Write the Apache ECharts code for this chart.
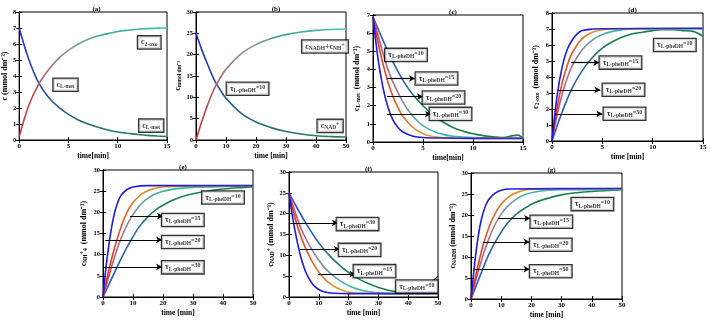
<!DOCTYPE html>
<html>
<head>
<meta charset="utf-8">
<script src="https://cdn.jsdelivr.net/npm/echarts@6/dist/echarts.min.js"></script>
<style>
  html, body { margin: 0; padding: 0; background: #fff; }
  #chart { width: 710px; height: 320px; }
</style>
</head>
<body>
<div id="chart"></div>
<script>
  // ---- data: [time (min), concentration (mmol dm-3)] ----
  // (a)
  const aLmet = [[0,7],[1,5.0],[2,3.55],[3,2.65],[4,2.05],[5,1.6],[6,1.25],[7,1.0],[8,0.8],[9,0.63],[10,0.5],[11,0.42],[12,0.35],[13,0.29],[14,0.25],[15,0.22]];
  const a2oxo = [[0,0.2],[1,2.2],[2,3.5],[3,4.4],[4,5.1],[5,5.6],[6,6.0],[7,6.3],[8,6.5],[9,6.65],[10,6.78],[11,6.86],[12,6.92],[13,6.96],[14,6.99],[15,7.0]];
  // (b)
  const bNAD = [[0,25],[2,21],[4,17.5],[6,14.2],[8,11.8],[10,9.8],[15,6.3],[20,4.2],[25,2.9],[30,2.0],[35,1.4],[40,1.0],[45,0.8],[50,0.7]];
  const bNADH = [[0,0],[2,4.5],[4,8.5],[6,11.9],[8,14.5],[10,16.6],[15,20.2],[20,22.4],[25,23.8],[30,24.7],[35,25.3],[40,25.7],[45,25.9],[50,26.0]];
  // (c) c L-met for tau = 30, 20, 15, 10
  const cT30 = [[0,6.9],[0.5,4.6],[1,3.0],[1.5,1.9],[2,1.2],[2.5,0.8],[3,0.55],[4,0.32],[5,0.25],[7,0.22],[10,0.2],[15,0.2]];
  const cT20 = [[0,6.9],[0.5,5.5],[1,4.3],[1.5,3.3],[2,2.5],[2.5,1.9],[3,1.4],[4,0.8],[5,0.45],[6,0.3],[7,0.25],[10,0.2],[15,0.2]];
  const cT15 = [[0,6.9],[0.5,5.9],[1,4.9],[1.5,4.0],[2,3.3],[3,2.2],[4,1.4],[5,0.9],[6,0.6],[7,0.42],[8,0.32],[10,0.25],[15,0.2]];
  const cT10 = [[0,6.9],[1,5.6],[2,4.4],[3,3.4],[4,2.6],[5,2.0],[6,1.5],[7,1.1],[8,0.8],[9,0.6],[10,0.45],[11,0.35],[12,0.28],[13,0.25],[14,0.35],[14.5,0.38],[15,0.2]];
  // (d) c 2-oxo
  const dT30 = [[0,0],[0.5,2.8],[1,4.6],[1.5,5.7],[2,6.3],[2.5,6.7],[3,6.9],[4,7.0],[5,7.02],[15,7.05]];
  const dT20 = [[0,0],[0.5,2.0],[1,3.6],[1.5,4.7],[2,5.5],[3,6.4],[4,6.8],[5,6.95],[6,7.0],[15,7.05]];
  const dT15 = [[0,0],[0.5,1.6],[1,2.9],[1.5,3.9],[2,4.7],[3,5.7],[4,6.3],[5,6.65],[6,6.85],[7,6.95],[8,7.0],[15,7.0]];
  const dT10 = [[0,0],[1,1.8],[2,3.3],[3,4.4],[4,5.2],[5,5.8],[6,6.2],[7,6.5],[8,6.7],[9,6.8],[10,6.9],[11,6.95],[12,6.95],[13,6.9],[14,6.85],[15,6.55]];
  // (e) c NH4+
  const eT30 = [[0,0],[1,7],[2,12.5],[3,17],[4,20.3],[5,22.5],[6,24],[8,25.4],[10,26],[15,26.3],[50,26.3]];
  const eT20 = [[0,0],[2,6.5],[4,12],[6,16.5],[8,20],[10,22.3],[12,23.8],[14,24.8],[17,25.6],[20,26],[30,26.2],[50,26.3]];
  const eT15 = [[0,0],[2,5],[4,9.8],[6,13.8],[8,17],[10,19.5],[12,21.4],[14,22.8],[17,24.2],[20,25],[25,25.6],[30,25.9],[40,26.1],[50,26.2]];
  const eT10 = [[0,0],[3,4.5],[6,9],[9,13],[12,16.5],[15,19],[18,20.8],[21,22.1],[25,23.4],[30,24.4],[35,25],[40,25.5],[45,25.8],[50,26]];
  // (f) c NAD+
  const fT30 = [[0,25],[1,20],[2,16],[3,12.5],[4,9.5],[5,7.2],[6,5.4],[8,3],[10,1.8],[12,1.2],[15,0.9],[20,0.8],[50,0.8]];
  const fT20 = [[0,25],[2,19],[4,14.5],[6,11],[8,8.2],[10,6],[12,4.3],[14,3.1],[16,2.2],[18,1.6],[20,1.2],[25,0.9],[50,0.8]];
  const fT15 = [[0,25],[2,20.5],[4,16.5],[6,13.5],[8,11],[10,8.8],[12,7],[15,5],[18,3.5],[21,2.4],[25,1.5],[30,1.0],[35,0.8],[50,0.8]];
  const fT10 = [[0,25],[3,21],[6,17.3],[9,14],[12,11.2],[15,8.9],[18,7],[21,5.4],[24,4.1],[27,3.1],[30,2.3],[33,1.7],[36,1.3],[40,1.0],[45,1.0],[50,1.2]];
  // (g) c NADH
  const gT30 = [[0,0],[1,7],[2,13],[3,17.5],[4,20.5],[5,22.5],[6,23.8],[8,25.2],[10,25.9],[13,26.2],[50,26.3]];
  const gT20 = [[0,0],[2,7],[4,12.8],[6,17.2],[8,20.4],[10,22.6],[12,24],[14,25],[17,25.8],[20,26.1],[50,26.3]];
  const gT15 = [[0,0],[2,5.5],[4,10.5],[6,14.5],[8,17.8],[10,20.2],[12,22],[15,23.8],[18,24.9],[22,25.6],[26,25.9],[30,26],[50,26.1]];
  const gT10 = [[0,0],[3,5.5],[6,10.8],[9,14.8],[12,18],[15,20.2],[18,21.7],[21,22.9],[25,23.9],[30,24.8],[35,25.3],[40,25.6],[50,26]];

  // ---- annotation boxes [x, y, text] and arrows [[x1,y1],[x2,y2]] ----
  const aLabels = [[13.2, 6.1, '{t|c}{s|2-oxo}'], [4.7, 3.45, '{t|c}{s|L-met}'], [13.4, 0.9, '{t|c}{s|L-met}']];
  const bLabels = [[43, 21.9, '{t|c}{s|NADH}{t|+c}{s|NH}{e|+}'], [17.2, 12, '{t|τ}{s|L-pheDH}{e|=10}'], [44.7, 3.3, '{t|c}{s|NAD}{e|+}']];
  const cLabels = [[3.3, 4.8, '{t|τ}{s|L-pheDH}{e|=10}'], [6.35, 3.5, '{t|τ}{s|L-pheDH}{e|=15}'], [7.05, 2.45, '{t|τ}{s|L-pheDH}{e|=20}'], [7.75, 1.55, '{t|τ}{s|L-pheDH}{e|=30}']];
  const cArrows = [[[1.4, 3.5], [4.2, 3.5]], [[1.4, 2.5], [5.0, 2.5]], [[1.4, 1.54], [5.8, 1.54]]];
  const dLabels = [[12.2, 6.0, '{t|τ}{s|L-pheDH}{e|=10}'], [6.8, 4.9, '{t|τ}{s|L-pheDH}{e|=15}'], [7.1, 3.2, '{t|τ}{s|L-pheDH}{e|=20}'], [7.2, 1.7, '{t|τ}{s|L-pheDH}{e|=50}']];
  const dArrows = [[[1.9, 4.9], [4.7, 4.9]], [[0.6, 3.2], [4.8, 3.2]], [[0.3, 1.7], [5.0, 1.7]]];
  const eLabels = [[40, 23.5, '{t|τ}{s|L-pheDH}{e|=10}'], [26.6, 18.2, '{t|τ}{s|L-pheDH}{e|=15}'], [26.6, 13, '{t|τ}{s|L-pheDH}{e|=20}'], [26.6, 7, '{t|τ}{s|L-pheDH}{e|=30}']];
  const eArrows = [[[9, 19.1], [20, 19.1]], [[0.7, 13.5], [19.7, 13.5]], [[0.3, 7.1], [19.7, 7.1]]];
  const fLabels = [[23, 17.5, '{t|τ}{s|L-pheDH}{e|=30}'], [23.7, 11.3, '{t|τ}{s|L-pheDH}{e|=20}'], [28.7, 6.2, '{t|τ}{s|L-pheDH}{e|=15}'], [42.9, 2.5, '{t|τ}{s|L-pheDH}{e|=10}']];
  const fArrows = [[[0.4, 17.8], [16.4, 17.8]], [[3.6, 11.5], [17, 11.5]], [[9.7, 5.5], [22.3, 5.5]]];
  const fPointer = [[[47, 3.0], [50, 5.0]]];
  const gLabels = [[40.2, 22.6, '{t|τ}{s|L-pheDH}{e|=10}'], [26.6, 18.4, '{t|τ}{s|L-pheDH}{e|=15}'], [26.4, 12.9, '{t|τ}{s|L-pheDH}{e|=20}'], [26.4, 6.6, '{t|τ}{s|L-pheDH}{e|=50}']];
  const gArrows = [[[9, 19.2], [19.6, 19.2]], [[3.9, 13.6], [19.4, 13.6]], [[0.8, 7.1], [19.4, 7.1]]];

  const FONT = 'Liberation Serif';
  // colour stops along the time axis of each curve
  const BLUE = [[0, '#1a1ae0'], [1, '#3424d0']];
  const ORANGE = [[0, '#e02020'], [0.22, '#e07a26'], [0.4, '#e8a424'], [1, '#e8a424']];
  const TEAL = [[0, '#e0406a'], [0.2, '#8a8a9a'], [0.4, '#3ab4b0'], [1, '#3ab4b0']];
  const GREEN = [[0, '#2050e0'], [0.22, '#2a6a9a'], [0.4, '#1a7f4c'], [1, '#1a7f4c']];
  const FALL = [[0, '#1c2ed8'], [0.25, '#2f5f88'], [1, '#1f8a52']];
  const RISE = [[0, '#e02828'], [0.15, '#b06060'], [0.35, '#8a9a98'], [0.6, '#3aa8a0'], [1, '#48c4b8']];

  const panels = [
    { grid: { left: 16, top: 12, width: 151, height: 128 }, xmax: 15, xint: 5, ymax: 8, yint: 1, title: '(a)', xname: 'time[min]',
      yname: '{t|c (mmol dm⁻³)}', ygap: 9,
      curves: [[aLmet, FALL], [a2oxo, RISE]], labels: aLabels, arrows: [] },
    { grid: { left: 196, top: 12, width: 150, height: 128 }, xmax: 50, xint: 10, ymax: 30, yint: 5, title: '(b)', xname: 'time [min]',
      yname: '{t|c}{s|mmol dm⁻³}', ygap: 13,
      curves: [[bNAD, FALL], [bNADH, RISE]], labels: bLabels, arrows: [] },
    { grid: { left: 373, top: 15, width: 150, height: 127 }, xmax: 15, xint: 5, ymax: 7, yint: 1, title: '(c)', xname: 'time[min]',
      yname: '{t|c}{s|L-met}{t|  (mmol dm⁻³)}', ygap: 11,
      curves: [[cT10, GREEN], [cT15, TEAL], [cT20, ORANGE], [cT30, BLUE]], labels: cLabels, arrows: cArrows },
    { grid: { left: 552, top: 13, width: 151, height: 128 }, xmax: 15, xint: 5, ymax: 8, yint: 1, title: '(d)', xname: 'time [min]',
      yname: '{t|c}{s|2-oxo}{t|  (mmol dm⁻³)}', ygap: 11,
      curves: [[dT10, GREEN], [dT15, TEAL], [dT20, ORANGE], [dT30, BLUE]], labels: dLabels, arrows: dArrows },
    { grid: { left: 103, top: 170, width: 150, height: 127 }, xmax: 50, xint: 10, ymax: 30, yint: 5, title: '(e)', xname: 'time [min]',
      yname: '{t|c}{s|NH}{e|+}{s|4}{t|  (mmol dm⁻³)}', ygap: 14,
      curves: [[eT10, GREEN], [eT15, TEAL], [eT20, ORANGE], [eT30, BLUE]], labels: eLabels, arrows: eArrows },
    { grid: { left: 289, top: 172, width: 149, height: 125 }, xmax: 50, xint: 10, ymax: 30, yint: 5, title: '(f)', xname: 'time [min]',
      yname: '{t|c}{s|NAD}{e|+}{t| (mmol dm⁻³)}', ygap: 12,
      curves: [[fT10, GREEN], [fT15, TEAL], [fT20, ORANGE], [fT30, BLUE]], labels: fLabels, arrows: fArrows, pointer: fPointer },
    { grid: { left: 471, top: 173, width: 151, height: 126 }, xmax: 50, xint: 10, ymax: 30, yint: 5, title: '(g)', xname: 'time [min]',
      yname: '{t|c}{s|NADH}{t| (mmol dm⁻³)}', ygap: 12,
      curves: [[gT10, GREEN], [gT15, TEAL], [gT20, ORANGE], [gT30, BLUE]], labels: gLabels, arrows: gArrows },
  ];

  const rich = {
    t: { fontFamily: FONT, fontWeight: 'bold', fontSize: 8, color: '#000' },
    s: { fontFamily: FONT, fontWeight: 'bold', fontSize: 5.5, color: '#000', padding: [4, 0, 0, 0] },
    e: { fontFamily: FONT, fontWeight: 'bold', fontSize: 6, color: '#000', padding: [0, 0, 3, 0] },
  };

  function grad(stops) {
    return {
      type: 'linear', x: 0, y: 0, x2: 1, y2: 0,
      colorStops: stops.map(([o, c]) => ({ offset: o, color: c })),
    };
  }

  const chart = echarts.init(document.getElementById('chart'));
  const grid = [], xAxis = [], yAxis = [], title = [], series = [];
  const axisText = { fontFamily: FONT, fontWeight: 'bold', fontSize: 7, color: '#000' };

  panels.forEach((p, i) => {
    grid.push(Object.assign({ show: true, borderColor: '#000', borderWidth: 1, backgroundColor: '#fff' }, p.grid));
    title.push({
      text: p.title, left: p.grid.left + p.grid.width / 2, top: p.grid.top - 11, textAlign: 'center',
      textStyle: { fontFamily: FONT, fontWeight: 'bold', fontSize: 7, color: '#000' },
    });
    xAxis.push({
      gridIndex: i, type: 'value', min: 0, max: p.xmax, interval: p.xint,
      axisLine: { show: true, onZero: false, lineStyle: { color: '#000', width: 1 } },
      axisTick: { inside: true, length: 3, lineStyle: { color: '#000' } },
      axisLabel: Object.assign({ margin: 3 }, axisText),
      splitLine: { show: false },
      name: p.xname, nameLocation: 'middle', nameGap: 12,
      nameTextStyle: { fontFamily: FONT, fontWeight: 'bold', fontSize: 7.5, color: '#000' },
    });
    yAxis.push({
      gridIndex: i, type: 'value', min: 0, max: p.ymax, interval: p.yint,
      axisLine: { show: true, onZero: false, lineStyle: { color: '#000', width: 1 } },
      axisTick: { inside: true, length: 3, lineStyle: { color: '#000' } },
      axisLabel: Object.assign({ margin: 3 }, axisText, { fontSize: 6.5 }),
      splitLine: { show: false },
      name: p.yname, nameLocation: 'middle', nameGap: p.ygap, nameRotate: 90,
      nameTextStyle: { rich: rich },
    });
    p.curves.forEach(([data, stops]) => {
      series.push({
        type: 'line', xAxisIndex: i, yAxisIndex: i, data: data, smooth: 0.35,
        showSymbol: false, silent: true, animation: false,
        lineStyle: { width: 1.6, color: grad(stops) },
      });
    });
    const lines = p.arrows.map(([a, b]) => [{ coord: a }, { coord: b }]);
    const ptr = (p.pointer || []).map(([a, b]) => [{ coord: a, symbol: 'none' }, { coord: b, symbol: 'none' }]);
    series.push({
      type: 'scatter', xAxisIndex: i, yAxisIndex: i, symbolSize: 0, silent: true, animation: false, z: 5,
      data: p.labels.map(l => ({ value: [l[0], l[1]], label: { formatter: l[2] } })),
      label: {
        show: true, position: 'inside', backgroundColor: '#fff', borderColor: '#000', borderWidth: 1.3,
        padding: [1, 3, 1, 3], rich: rich,
      },
      markLine: {
        silent: true, animation: false, symbol: ['none', 'arrow'], symbolSize: [5, 6],
        label: { show: false },
        lineStyle: { color: '#000', width: 1.2, type: 'solid' },
        data: lines.concat(ptr),
      },
    });
  });

  // mirrored tick marks on the top and right edges of each box
  panels.forEach((p, i) => {
    xAxis.push({
      gridIndex: i, type: 'value', position: 'top', min: 0, max: p.xmax, interval: p.xint,
      axisLine: { show: true, lineStyle: { color: '#000' } },
      axisTick: { inside: true, length: 3, lineStyle: { color: '#000' } },
      axisLabel: { show: false }, splitLine: { show: false },
    });
    yAxis.push({
      gridIndex: i, type: 'value', position: 'right', min: 0, max: p.ymax, interval: p.yint,
      axisLine: { show: true, lineStyle: { color: '#000' } },
      axisTick: { inside: true, length: 3, lineStyle: { color: '#000' } },
      axisLabel: { show: false }, splitLine: { show: false },
    });
  });

  chart.setOption({ animation: false, backgroundColor: '#fff', title, grid, xAxis, yAxis, series });
</script>
</body>
</html>
